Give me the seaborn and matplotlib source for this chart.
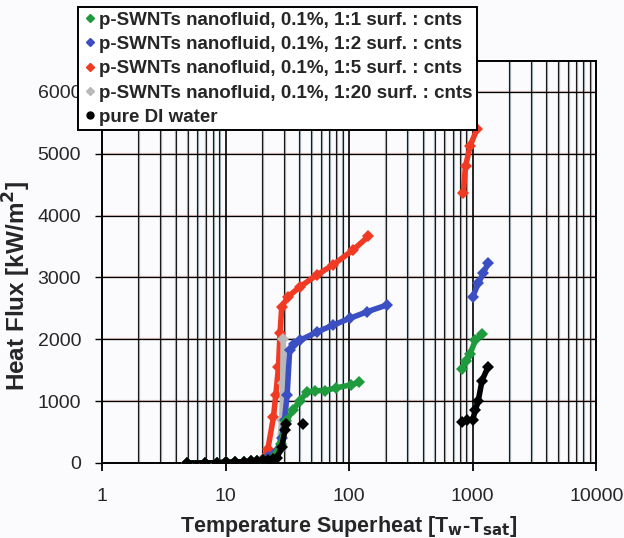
import numpy as np
import pandas as pd
import matplotlib
matplotlib.use("Agg")
import matplotlib.pyplot as plt
from matplotlib.lines import Line2D
import seaborn as sns

# ---- data ----
labels = [
    "p-SWNTs nanofluid, 0.1%, 1:1 surf. : cnts",
    "p-SWNTs nanofluid, 0.1%, 1:2 surf. : cnts",
    "p-SWNTs nanofluid, 0.1%, 1:5 surf. : cnts",
    "p-SWNTs nanofluid, 0.1%, 1:20 surf. : cnts",
    "pure DI water",
]
colors = ["#1f9a3c", "#3b4fc2", "#f03a24", "#b9b9b9", "#000000"]

base_x = [4.9, 6.8, 8.5, 10, 12, 14, 16, 18]
base_y = [0, 0, 5, 10, 15, 20, 25, 30]

# 1:1 (green)
g_low_x = base_x + [20, 24, 28, 31, 35, 40, 45.5, 53, 63.5, 79, 103, 121]
g_low_y = base_y + [40, 80, 300, 683, 850, 1008, 1143, 1170, 1170, 1215, 1263, 1306]
g_high_x = [817, 890, 955, 1050, 1200]
g_high_y = [1523, 1650, 1767, 1984, 2092]

# 1:2 (blue)
b_low_x = base_x + [20, 22, 26, 28.5, 30, 31.5, 33, 36, 40, 55, 74, 102, 139, 201]
b_low_y = base_y + [40, 100, 200, 400, 700, 1100, 1822, 1920, 1984, 2119, 2228, 2341, 2444, 2553]
b_high_x = [1000, 1110, 1220, 1330]
b_high_y = [2688, 2906, 3070, 3231]

# 1:5 (red)
r_low_x = base_x + [20, 22, 24.4, 25.5, 26.8, 27.6, 28.5, 32, 40, 55, 74, 108, 143]
r_low_y = base_y + [60, 228, 737, 1100, 1550, 2098, 2525, 2688, 2850, 3041, 3203, 3447, 3663]
r_high_x = [840, 875, 955, 1080]
r_high_y = [4369, 4801, 5127, 5398]

# 1:20 (gray)
s_low_x = base_x + [20, 24, 27, 28.5, 29, 29.3]
s_low_y = base_y + [40, 90, 200, 700, 1300, 2011]

# pure DI water (black)
w_low_x = base_x + [20, 22, 24, 26, 28.5, 30.3, 31]
w_low_y = base_y + [40, 55, 60, 76, 263, 532, 630]
w_iso_x = [42.7]
w_iso_y = [630]
w_high_x = [817, 900, 1000, 1050, 1110, 1190, 1330]
w_high_y = [655, 690, 700, 850, 1008, 1333, 1550]

segments = [
    (labels[2], "r1", r_low_x, r_low_y),
    (labels[2], "r2", r_high_x, r_high_y),
    (labels[3], "s1", s_low_x, s_low_y),
    (labels[1], "b1", b_low_x, b_low_y),
    (labels[1], "b2", b_high_x, b_high_y),
    (labels[0], "g1", g_low_x, g_low_y),
    (labels[0], "g2", g_high_x, g_high_y),
    (labels[4], "w1", w_low_x, w_low_y),
    (labels[4], "w2", w_iso_x, w_iso_y),
    (labels[4], "w3", w_high_x, w_high_y),
]

rows = []
for lab, seg, xs, ys in segments:
    for x, y in zip(xs, ys):
        rows.append({"series": lab, "seg": seg, "x": x, "y": y})
df = pd.DataFrame(rows)

sns.set_theme(style="white")
plt.rcParams["font.family"] = ["Liberation Sans", "DejaVu Sans"]

bg = "#fbfbfd"
fig = plt.figure(figsize=(6.24, 5.38), dpi=100, facecolor=bg)
ax = fig.add_axes([0.1635, 0.1395, 0.792, 0.747])
ax.set_facecolor(bg)
ax.set_xscale("log")
ax.set_xlim(1, 10000)
ax.set_ylim(0, 6500)

# grid: minor vertical lines (grey-teal halo + dark core), major vertical, horizontal
minor = [m * 10 ** d for d in range(4) for m in range(2, 10)]
for xv in minor:
    ax.axvline(xv, color="#9fb0b6", lw=1.6, zorder=0.5)
    ax.axvline(xv * 0.985, color="#1a1a1a", lw=0.8, zorder=0.6)
for xv in [10, 100, 1000]:
    ax.axvline(xv, color="#000000", lw=1.2, zorder=0.6)
for yv in range(1000, 7000, 1000):
    ax.axhline(yv, color="#c98a80", lw=1.6, alpha=0.5, zorder=0.5)
    ax.axhline(yv, color="#000000", lw=0.9, zorder=0.6)

palette = dict(zip(labels, colors))
for lab, seg, xs, ys in segments:
    sub = df[df["seg"] == seg]
    sns.lineplot(data=sub, x="x", y="y", color=palette[lab], estimator=None,
                 sort=False, lw=4, marker="D", markersize=6,
                 markeredgewidth=0, ax=ax, legend=False, zorder=3)

ax.set_xticks([1, 10, 100, 1000, 10000])
ax.set_xticklabels(["1", "10", "100", "1000", "10000"])
ax.set_yticks(range(0, 7000, 1000))
ax.xaxis.set_minor_locator(matplotlib.ticker.NullLocator())
ax.tick_params(axis="x", which="major", direction="out", length=6, width=1.3,
               color="black", labelsize=14, pad=12, bottom=True)
ax.tick_params(axis="y", which="major", direction="out", length=5, width=1.0,
               color="black", labelsize=14, pad=10, left=True)
for sp in ax.spines.values():
    sp.set_color("black")
    sp.set_linewidth(1.4)
    sp.set_visible(True)

ax.set_xlabel("Temperature Superheat [T$_\\mathbf{w}$-T$_\\mathbf{sat}$]",
              fontsize=15.5, fontweight="bold")
ax.xaxis.set_label_coords(0.5, -0.128)
ax.set_ylabel("Heat Flux [kW/m$^\\mathbf{2}$]", fontsize=17.5, fontweight="bold")
ax.yaxis.set_label_coords(-0.14, 0.44)

handles = [Line2D([0], [0], ls="none", marker="D", ms=4, color=c) for c in colors[:4]]
handles.append(Line2D([0], [0], ls="none", marker="o", ms=5, color="black"))
leg = fig.legend(handles, labels, loc="upper left",
                 bbox_to_anchor=(0.125, 0.987), frameon=True, fancybox=False,
                 framealpha=1, edgecolor="black", facecolor="white",
                 prop={"weight": "bold", "size": 13.5}, handletextpad=0.05,
                 handlelength=0.8, labelspacing=0.38, borderpad=0.25,
                 borderaxespad=0)
leg.get_frame().set_linewidth(1.4)
leg.set_zorder(10)

fig.savefig("out.png", dpi=100, facecolor=fig.get_facecolor())
